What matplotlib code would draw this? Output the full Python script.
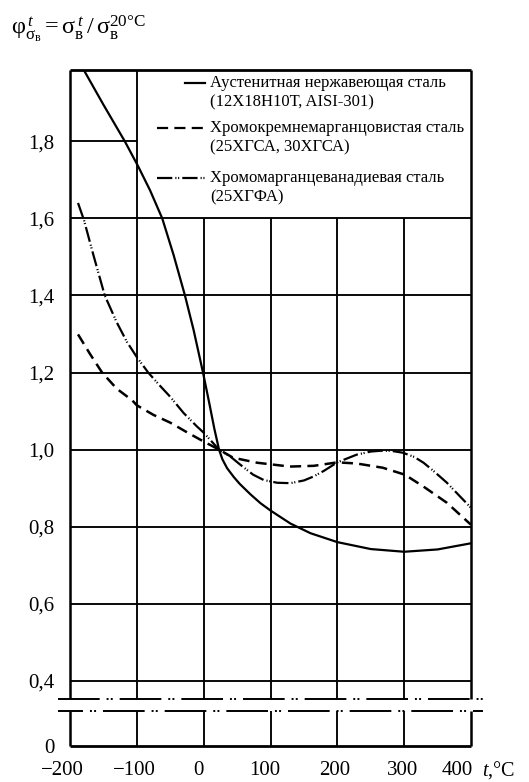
import matplotlib
matplotlib.use("Agg")
import matplotlib.pyplot as plt
from matplotlib.transforms import ScaledTranslation

# ---------------- data ----------------
AUS_T = [-180, -150, -118, -98, -80, -62, -45, -28, -15, -1, 8, 16, 23, 28, 35,
         45, 54, 70, 85, 100, 130, 160, 200, 250, 300, 350, 400]
AUS_V = [1.987, 1.895, 1.80, 1.735, 1.672, 1.60, 1.505, 1.40, 1.31, 1.20, 1.124,
         1.054, 1.0, 0.975, 0.952, 0.929, 0.911, 0.884, 0.861, 0.842, 0.808,
         0.783, 0.76, 0.742, 0.735, 0.741, 0.757]

CSM_T = [-188, -170, -152, -130, -107, -100, -75, -50, -25, 0, 23, 44, 80, 129,
         165, 200, 229, 268, 301, 329, 364, 400]
CSM_V = [1.299, 1.248, 1.20, 1.158, 1.128, 1.115, 1.09, 1.07, 1.045, 1.021, 1.0,
         0.979, 0.966, 0.956, 0.958, 0.967, 0.964, 0.953, 0.935, 0.904, 0.862, 0.805]

CMV_T = [-188, -179, -165, -148, -130, -115, -100, -83, -65, -50, -30, -10, 0, 23,
         40, 54, 74, 90, 110, 130, 150, 164, 180, 200, 229, 250, 264, 280, 298,
         315, 329, 345, 364, 380, 400]
CMV_V = [1.64, 1.595, 1.505, 1.40, 1.33, 1.28, 1.24, 1.20, 1.165, 1.137, 1.095,
         1.06, 1.044, 1.0, 0.982, 0.962, 0.935, 0.921, 0.914, 0.913, 0.92, 0.93,
         0.945, 0.967, 0.987, 0.995, 0.997, 0.997, 0.992, 0.981, 0.966, 0.943,
         0.914, 0.885, 0.849]

X_TICKS = [-200, -100, 0, 100, 200, 300, 400]
X_LABELS = ["\u2212200", "\u2212100", "0", "100", "200", "300", "400"]
Y_GRID = [0.4, 0.6, 0.8, 1.0, 1.2, 1.4, 1.6]
Y_LABELS = ["0", "0,4", "0,6", "0,8", "1,0", "1,2", "1,4", "1,6", "1,8"]

LEG_1 = ["Аустенитная нержавеющая сталь", "(12Х18Н10Т, AISI-301)"]
LEG_2 = ["Хромокремнемарганцовистая сталь", "(25ХГСА, 30ХГСА)"]
LEG_3 = ["Хромомарганцеванадиевая сталь", "(25ХГФА)"]

# ---------------- layout constants ----------------
Y_ZERO_POS = 0.231      # where "0" sits on the broken axis
Y_TOP = 1.985
BREAK_HI = 0.352
BREAK_LO = 0.321

plt.rcParams["font.family"] = ["Liberation Serif", "DejaVu Serif"]
plt.rcParams["mathtext.fontset"] = "custom"
plt.rcParams["mathtext.rm"] = "Liberation Serif"
plt.rcParams["mathtext.it"] = "Liberation Serif:italic"
plt.rcParams["mathtext.bf"] = "Liberation Serif:bold"
plt.rcParams["lines.scale_dashes"] = False

W, H = 529, 782
fig = plt.figure(figsize=(W / 100, H / 100), dpi=100)


def fx(px):
    return px / W


def fy(py):
    return 1 - py / H


ax = fig.add_axes([fx(70), fy(746), (471 - 70) / W, (746 - 70) / H])
ax.set_xlim(-200, 400)
ax.set_ylim(Y_ZERO_POS, Y_TOP)
for s in ax.spines.values():
    s.set_visible(False)

GLW = 1.35
# horizontal grid
for y in Y_GRID:
    ax.hlines(y, -200, 400, color="k", lw=GLW, zorder=1)
ax.hlines(1.8, -200, -100, color="k", lw=GLW, zorder=1)
ax.hlines(Y_TOP, -200, 400, color="k", lw=2.0, zorder=1, clip_on=False)
ax.hlines(Y_ZERO_POS, -200, 400, color="k", lw=2.0, zorder=1, clip_on=False)
# vertical grid (broken)
for x in X_TICKS:
    top = Y_TOP if x in (-200, -100, 400) else 1.6
    lw = 1.8 if x in (-200, 400) else GLW
    ax.vlines(x, Y_ZERO_POS, BREAK_LO, color="k", lw=lw, zorder=1, clip_on=False)
    ax.vlines(x, BREAK_HI, top, color="k", lw=lw, zorder=1, clip_on=False)

# break lines
ax.plot([-218, 418], [BREAK_HI, BREAK_HI], color="k", lw=1.4,
        ls=(0, (30, 5, 1.4, 1.6, 1.4, 5)), clip_on=False, zorder=2)
ax.plot([-218, 418], [BREAK_LO, BREAK_LO], color="k", lw=1.4,
        ls=(12, (30, 5, 1.4, 1.6, 1.4, 5)), clip_on=False, zorder=2)

# curves
LS_DASH = (0, (8, 4.5))
LS_DD = (0, (11, 2.2, 0.8, 1.2, 0.8, 2.2))
ax.plot(AUS_T, AUS_V, color="k", lw=1.6, zorder=3, solid_joinstyle="round")
ax.plot(CSM_T, CSM_V, color="k", lw=1.8, ls=LS_DASH, zorder=3)
ax.plot(CMV_T, CMV_V, color="k", lw=1.6, ls=LS_DD, zorder=3)

# ticks
ax.set_xticks(X_TICKS)
ax.set_xticklabels(X_LABELS)
ax.set_yticks([Y_ZERO_POS] + Y_GRID + [1.8])
ax.set_yticklabels(Y_LABELS)
ax.tick_params(axis="both", length=0, labelsize=15)
ax.tick_params(axis="x", pad=10.5)
ax.tick_params(axis="y", pad=11)
x_shift = [-8, -2, -5, -6, -3, -2, -14]
for lab, dx in zip(ax.get_xticklabels(), x_shift):
    lab.set_transform(lab.get_transform() + ScaledTranslation(dx / 100, 0, fig.dpi_scale_trans))

fig.text(fx(482), fy(770), r"$t$,°C", fontsize=14.5, ha="left", va="center")

# axis title formula
fig.text(fx(11), fy(29),
         r"$\mathrm{φ}^{\,t}_{\mathrm{σ}_{\mathrm{в}}} = \mathrm{σ}^{\,t}_{\mathrm{в}}\,/\,\mathrm{σ}^{\mathrm{20°C}}_{\mathrm{в}}$",
         fontsize=17.5, ha="left", va="center")

# legend (manual, inside the blank box)
LFS = 12
entries = [(LEG_1, "-", 185, 83), (LEG_2, LS_DASH, 157, 128), (LEG_3, LS_DD, 157, 178)]
for lines, ls, x0, yc in entries:
    fig.add_artist(plt.Line2D([fx(x0), fx(205)], [fy(yc), fy(yc)], color="k",
                              lw=1.6, ls=ls, transform=fig.transFigure))
    fig.text(fx(210), fy(yc), lines[0], fontsize=LFS, ha="left", va="center")
    fig.text(fx(210), fy(yc + 19.5), lines[1], fontsize=LFS, ha="left", va="center")

fig.savefig("out.png", dpi=100)
